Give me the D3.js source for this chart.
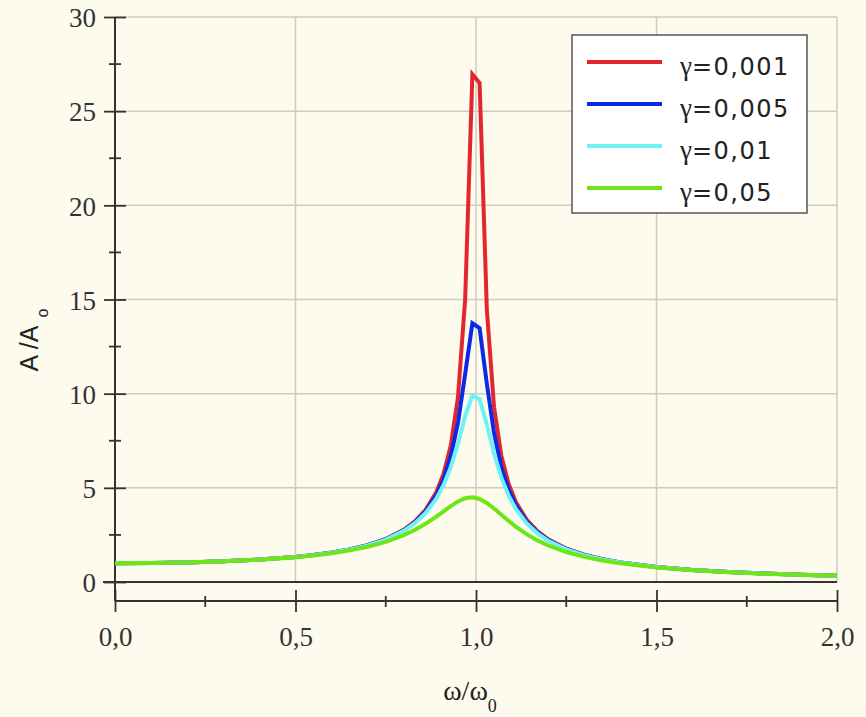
<!DOCTYPE html>
<html>
<head>
<meta charset="utf-8">
<script src="https://cdn.jsdelivr.net/npm/d3@7"></script>
<style>
  html, body { margin: 0; padding: 0; background: #fdfbed; }
  svg { display: block; }
</style>
</head>
<body>
<svg id="chart" width="866" height="717"></svg>
<script>
// omega / omega0 sample points
let xs = [0, 0.1, 0.2, 0.3, 0.4, 0.5, 0.55, 0.6, 0.65, 0.7, 0.75, 0.8, 0.83, 0.86, 0.89, 0.91, 0.93, 0.95, 0.97, 0.99,
          1.01, 1.03, 1.05, 1.07, 1.09, 1.11, 1.14, 1.17, 1.2, 1.25, 1.3, 1.35, 1.4, 1.5, 1.6, 1.7, 1.8, 1.9, 2.0]

// A/A0
let red = [1.000, 1.010, 1.042, 1.099, 1.190, 1.333, 1.433, 1.562, 1.731, 1.959, 2.282, 2.771, 3.203, 3.819, 4.767, 5.738, 7.233, 9.802, 15.02, 26.96,
           26.50, 14.48, 9.281, 6.721, 5.229, 4.260, 3.314, 2.697, 2.264, 1.773, 1.447, 1.214, 1.041, 0.799, 0.641, 0.529, 0.446, 0.383, 0.333]
let blue = [1.000, 1.010, 1.042, 1.099, 1.190, 1.332, 1.432, 1.559, 1.726, 1.952, 2.269, 2.744, 3.159, 3.740, 4.604, 5.448, 6.655, 8.446, 11.05, 13.74,
            13.48, 10.53, 7.901, 6.118, 4.919, 4.082, 3.223, 2.645, 2.232, 1.756, 1.437, 1.208, 1.036, 0.797, 0.639, 0.528, 0.446, 0.383, 0.333]
let cyan = [1.000, 1.010, 1.041, 1.098, 1.189, 1.330, 1.429, 1.556, 1.721, 1.943, 2.253, 2.712, 3.106, 3.647, 4.422, 5.141, 6.097, 7.346, 8.804, 9.903,
            9.711, 8.357, 6.815, 5.552, 4.600, 3.887, 3.120, 2.584, 2.193, 1.736, 1.424, 1.200, 1.031, 0.794, 0.638, 0.527, 0.445, 0.382, 0.333]
let green = [1.000, 1.010, 1.041, 1.096, 1.184, 1.319, 1.412, 1.529, 1.679, 1.875, 2.134, 2.488, 2.761, 3.089, 3.475, 3.754, 4.033, 4.278, 4.448, 4.499,
             4.410, 4.198, 3.903, 3.575, 3.248, 2.943, 2.542, 2.211, 1.940, 1.592, 1.336, 1.141, 0.990, 0.773, 0.625, 0.519, 0.439, 0.378, 0.330]

let seriesNames = ['=0,001', '=0,005', '=0,01', '=0,05']
let seriesColors = ['#e3262d', '#0a2ae6', '#6ef2f4', '#6ee514']
let seriesValues = [red, blue, cyan, green]

let xMajor = [0, 0.5, 1.0, 1.5, 2.0]
let xMinor = [0.25, 0.75, 1.25, 1.75]
let yMajor = [0, 5, 10, 15, 20, 25, 30]
let yMinor = [2.5, 7.5, 12.5, 17.5, 22.5, 27.5]

let svg = d3.select('#chart')

let plotLeft = 115, plotRight = 837, plotTop = 17, plotBottom = 582, axisY = 601

let xScale = d3.scaleLinear().domain([0, 2]).range([plotLeft, plotRight])
let yScale = d3.scaleLinear().domain([0, 30]).range([plotBottom, plotTop])

let fmt = (v) => d3.format('.1f')(v).replace('.', ',')

// grid
let grid = svg.append('g')
grid.selectAll('line.h')
    .data(yMajor.filter(v => v > 0))
    .enter()
    .append('line')
    .attr('x1', plotLeft).attr('x2', plotRight)
    .attr('y1', v => yScale(v)).attr('y2', v => yScale(v))
    .attr('stroke', '#cfcbc0').attr('stroke-width', 1.5)
grid.selectAll('line.v')
    .data(xMajor.filter(v => v > 0))
    .enter()
    .append('line')
    .attr('x1', v => xScale(v)).attr('x2', v => xScale(v))
    .attr('y1', plotTop).attr('y2', plotBottom)
    .attr('stroke', '#cfcbc0').attr('stroke-width', 1.5)

// zero line
svg.append('line')
    .attr('x1', plotLeft - 12).attr('x2', plotRight)
    .attr('y1', yScale(0)).attr('y2', yScale(0))
    .attr('stroke', '#333').attr('stroke-width', 1.8)

// y axis
let yAxis = svg.append('g')
    .attr('transform', 'translate(' + plotLeft + ',0)')
    .call(d3.axisLeft(yScale).tickValues(yMajor).tickSize(11).tickFormat(d3.format('d')))
yAxis.select('.domain').remove()
yAxis.selectAll('.tick line').attr('x1', 11).attr('stroke', '#333').attr('stroke-width', 1.8)
yAxis.selectAll('.tick text')
    .attr('x', -19)
    .attr('dy', '0.36em')
    .style('font-family', '"Liberation Serif", "Times New Roman", serif')
    .style('font-size', '27px')
    .attr('fill', '#333')
yAxis.selectAll('line.minor')
    .data(yMinor)
    .enter()
    .append('line')
    .attr('x1', -6).attr('x2', 6)
    .attr('y1', v => yScale(v)).attr('y2', v => yScale(v))
    .attr('stroke', '#333').attr('stroke-width', 1.8)
svg.append('line')
    .attr('x1', plotLeft).attr('x2', plotLeft)
    .attr('y1', plotTop).attr('y2', axisY)
    .attr('stroke', '#333').attr('stroke-width', 2)

// x axis
let xAxis = svg.append('g')
    .attr('transform', 'translate(0,' + axisY + ')')
    .call(d3.axisBottom(xScale).tickValues(xMajor).tickSize(11).tickFormat(fmt))
xAxis.select('.domain').remove()
xAxis.selectAll('.tick line').attr('y1', -11).attr('stroke', '#333').attr('stroke-width', 1.8)
xAxis.selectAll('.tick text')
    .attr('y', 45)
    .attr('dy', 0)
    .style('font-family', '"Liberation Serif", "Times New Roman", serif')
    .style('font-size', '27px')
    .attr('fill', '#333')
xAxis.selectAll('line.minor')
    .data(xMinor)
    .enter()
    .append('line')
    .attr('x1', v => xScale(v)).attr('x2', v => xScale(v))
    .attr('y1', -5).attr('y2', 6)
    .attr('stroke', '#333').attr('stroke-width', 1.8)
svg.append('line')
    .attr('x1', plotLeft).attr('x2', plotRight)
    .attr('y1', axisY).attr('y2', axisY)
    .attr('stroke', '#333').attr('stroke-width', 2)

// curves
let line = d3.line()
    .x((d, i) => xScale(xs[i]))
    .y(d => yScale(d))

svg.selectAll('path.curve')
    .data(seriesValues)
    .enter()
    .append('path')
    .attr('class', 'curve')
    .attr('d', d => line(d))
    .attr('fill', 'none')
    .attr('stroke', (d, i) => seriesColors[i])
    .attr('stroke-width', 4)
    .attr('stroke-linejoin', 'miter')

// legend
let legend = svg.append('g')
legend.append('rect')
    .attr('x', 572).attr('y', 35)
    .attr('width', 235).attr('height', 178)
    .attr('fill', '#ffffff')
    .attr('stroke', '#555').attr('stroke-width', 1.5)
let rows = legend.selectAll('g.row')
    .data(seriesNames)
    .enter()
    .append('g')
    .attr('transform', (d, i) => 'translate(0,' + (62 + i * 42) + ')')
rows.append('line')
    .attr('x1', 587).attr('x2', 662)
    .attr('stroke', (d, i) => seriesColors[i])
    .attr('stroke-width', 4)
let labels = rows.append('text')
    .attr('x', 680).attr('y', 13)
    .style('font-family', '"DejaVu Sans", Verdana, sans-serif')
    .style('font-size', '24px')
    .style('letter-spacing', '1.5px')
    .attr('fill', '#222')
labels.append('tspan')
    .text('γ')
    .style('font-family', '"Liberation Serif", "Times New Roman", serif')
    .style('font-size', '27px')
    .style('letter-spacing', '0px')
labels.append('tspan').text(d => d)

// axis titles
let yTitle = svg.append('text')
    .attr('transform', 'translate(38,340) rotate(-90)')
    .attr('text-anchor', 'middle')
    .style('font-family', '"Liberation Sans", Arial, sans-serif')
    .style('font-size', '25px')
    .attr('fill', '#222')
yTitle.append('tspan').text('A /A')
yTitle.append('tspan').text('o').attr('dy', 10).style('font-size', '16px').attr('dx', 8)

let xTitle = svg.append('text')
    .attr('x', 470).attr('y', 700)
    .attr('text-anchor', 'middle')
    .style('font-family', '"Liberation Serif", "Times New Roman", serif')
    .style('font-size', '28px')
    .attr('fill', '#222')
xTitle.append('tspan').text('ω/ω')
xTitle.append('tspan').text('0').attr('dy', 12).style('font-size', '18px')
</script>
</body>
</html>
